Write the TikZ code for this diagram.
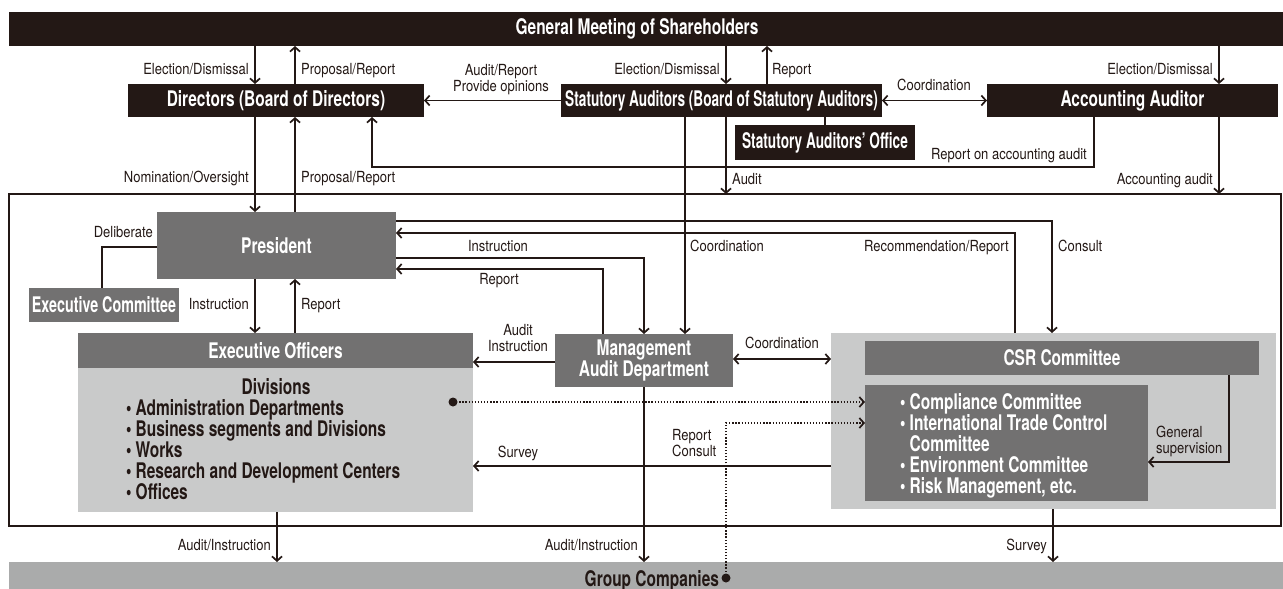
\documentclass[tikz,border=0pt]{standalone}
\usepackage{fontspec}
\usetikzlibrary{arrows.meta}
\newfontfamily\lblfont{TeX Gyre Heros}[FakeStretch=0.85]
\newfontfamily\bxfont{TeX Gyre Heros}[FakeStretch=0.72]
\newfontfamily\bxfontn{TeX Gyre Heros}[FakeStretch=0.635]
\newfontfamily\bxfontm{TeX Gyre Heros}[FakeStretch=0.665]
\definecolor{ink}{RGB}{35,24,21}
\definecolor{dgray}{RGB}{114,113,113}
\definecolor{lgray}{RGB}{201,202,202}
\definecolor{mgray}{RGB}{170,171,171}
\tikzset{
  box/.style={inner sep=0pt, outer sep=0pt, text=white, align=center,
    font=\bxfont\bfseries\fontsize{21.5}{21}\selectfont},
  blk/.style={box, fill=ink},
  dg/.style={box, fill=dgray},
  lg/.style={inner sep=0pt, outer sep=0pt, fill=lgray},
  dtext/.style={box, text=ink},
  narrowbox/.style={font=\bxfontn\bfseries\fontsize{21.5}{21}\selectfont},
  midbox/.style={font=\bxfontm\bfseries\fontsize{21.5}{21}\selectfont},
  lbl/.style={inner sep=0pt, text=ink, font=\lblfont\fontsize{15.3}{16}\selectfont},
  conn/.style={draw=ink, line width=1.3pt},
  arr/.style={conn, ->},
  darr/.style={conn, <->},
  dotarr/.style={conn, dash pattern=on 1.3pt off 1.8pt, ->},
}
\begin{document}
\begin{tikzpicture}[x=1pt, y=-1pt, >={Straight Barb[length=4.5pt,width=10pt,line width=1.7pt]}]
\useasboundingbox (0,0) rectangle (1283,589);

% ---- boxes ----
\node[blk, minimum width=1274pt, minimum height=34pt] (gm) at (646,29) {};
\node[box] (gmt) at (637,29) {General Meeting of Shareholders};
\node[blk, minimum width=296pt, minimum height=33pt] (dir) at (276,100.5) {Directors (Board of Directors)};
\node[blk, narrowbox, minimum width=321pt, minimum height=33pt] (sa) at (721.5,100.5) {Statutory Auditors (Board of Statutory Auditors)};
\node[blk, minimum width=291pt, minimum height=33pt] (aa) at (1132.5,100.5) {Accounting Auditor};
\node[blk, narrowbox, minimum width=180pt, minimum height=35pt] (sao) at (825,142.5) {Statutory Auditors’ Office};

\node[draw=ink, line width=2.2pt, inner sep=0pt, outer sep=0pt, minimum width=1272pt, minimum height=332pt] (outer) at (645,360) {};

\node[dg, minimum width=239pt, minimum height=67pt] (pres) at (276.5,245.5) {President};
\node[dg, midbox, minimum width=150pt, minimum height=34pt] (ec) at (104,305) {Executive Committee};
\node[lg, minimum width=395pt, minimum height=144pt] (div) at (275.5,440) {};
\node[dg, minimum width=395pt, minimum height=35pt] (eo) at (275.5,350.5) {Executive Officers};
\node[dtext] (divt) at (276,387) {Divisions};
\node[dtext, align=left, anchor=west] (divl) at (126,449.5) {• Administration Departments\\• Business segments and Divisions\\• Works\\• Research and Development Centers\\• Offices};
\node[dg, minimum width=178pt, minimum height=53pt] (mad) at (644,360.5) {Management\\Audit Department};
\node[lg, minimum width=445pt, minimum height=176pt] (csro) at (1053.5,421) {};
\node[dg, minimum width=394pt, minimum height=34pt] (csr) at (1062,358) {CSR Committee};
\node[dg, minimum width=283pt, minimum height=116pt] (csri) at (1006.5,443) {};
\node[box, align=left, anchor=west] (csrl) at (900,445.5) {• Compliance Committee\\• International Trade Control\\\hphantom{• }Committee\\• Environment Committee\\• Risk Management, etc.};
\node[inner sep=0pt, outer sep=0pt, fill=mgray, minimum width=1274pt, minimum height=32pt] (gc) at (646,578) {};
\node[dtext, anchor=east] (gct) at (719,581) {Group Companies};

\coordinate (d1) at (453,402);
\coordinate (d2) at (726,578);

% ---- connectors ----
\draw[arr] (gm.south -| 255,0) -- (dir.north -| 255,0);
\draw[arr] (dir.north -| 295,0) -- (gm.south -| 295,0);
\draw[arr] (sa.west) -- (dir.east);
\draw[arr] (gm.south -| 726,0) -- (sa.north -| 726,0);
\draw[arr] (sa.north -| 767,0) -- (gm.south -| 767,0);
\draw[darr] (sa.east) -- (aa.west);
\draw[arr] (gm.south -| 1219,0) -- (aa.north -| 1219,0);
\draw[conn] (sa.south -| sao.north) -- (sao.north);
\draw[arr] (dir.south -| 255,0) -- (pres.north -| 255,0);
\draw[arr] (pres.north -| 295,0) -- (dir.south -| 295,0);
\draw[arr] (aa.south -| 1094,0) -- (1094,167) -- (372,167) -- (dir.south -| 372,0);
\draw[arr] (sa.south -| 726,0) -- (outer.north -| 726,0);
\draw[arr] (aa.south -| 1219,0) -- (outer.north -| 1219,0);
\draw[arr] (sa.south -| 685,0) -- (mad.north -| 685,0);
\draw[arr] (pres.east |- 0,221) -- (1052,221) -- (csro.north -| 1052,0);
\draw[arr] (csro.north -| 1015,0) -- (1015,233) -- (pres.east |- 0,233);
\draw[arr] (pres.east |- 0,258) -- (644,258) -- (mad.north);
\draw[arr] (mad.north -| 603,0) -- (603,269) -- (pres.east |- 0,269);
\draw[conn] (pres.west |- 0,247) -- (102,247) -- (ec.north -| 102,0);
\draw[arr] (pres.south -| 255,0) -- (eo.north -| 255,0);
\draw[arr] (eo.north -| 295,0) -- (pres.south -| 295,0);
\draw[arr] (mad.west |- 0,362) -- (eo.east |- 0,362);
\draw[darr] (mad.east |- 0,359) -- (csro.west |- 0,359);
\draw[arr] (csro.west |- 0,466) -- (div.east |- 0,466);
\draw[arr] (csr.south -| 1229,0) -- (1229,462) -- (csri.east |- 0,462);
\draw[arr] (div.south -| 277,0) -- (gc.north -| 277,0);
\draw[arr] (mad.south) -- (gc.north -| 644,0);
\draw[arr] (csro.south -| 1053,0) -- (gc.north -| 1053,0);
\draw[dotarr] (d1) -- (csri.west |- d1);
\draw[dotarr] (d2) -- (726,423) -- (csri.west |- 0,423);
\fill[ink] (d1) circle (4.5);
\fill[ink] (d2) circle (4.5);

% ---- labels ----
\node[lbl, anchor=mid east] (l1) at (249,72) {Election/Dismissal};
\node[lbl, anchor=mid west] (l2) at (301,72) {Proposal/Report};
\node[lbl, align=center] (l3) at (501,80) {Audit/Report\\Provide opinions};
\node[lbl, anchor=mid east] (l4) at (720,72) {Election/Dismissal};
\node[lbl, anchor=mid west] (l5) at (772,72) {Report};
\node[lbl, anchor=mid] (l6) at (934,88) {Coordination};
\node[lbl, anchor=mid east] (l7) at (1213,72) {Election/Dismissal};
\node[lbl, anchor=mid east] (l8) at (249,180) {Nomination/Oversight};
\node[lbl, anchor=mid west] (l9) at (301,180) {Proposal/Report};
\node[lbl, anchor=mid east] (l10) at (1087,157) {Report on accounting audit};
\node[lbl, anchor=mid west] (l11) at (732,182) {Audit};
\node[lbl, anchor=mid east] (l12) at (1213,182) {Accounting audit};
\node[lbl, anchor=mid west] (l13) at (690,249) {Coordination};
\node[lbl, anchor=mid east] (l14) at (1009,249) {Recommendation/Report};
\node[lbl, anchor=mid west] (l15) at (1058,249) {Consult};
\node[lbl, anchor=mid] (l16) at (498,249) {Instruction};
\node[lbl, anchor=mid] (l17) at (499,282) {Report};
\node[lbl, anchor=mid east] (l18) at (153,235) {Deliberate};
\node[lbl, anchor=mid east] (l19) at (249,307) {Instruction};
\node[lbl, anchor=mid west] (l20) at (301,307) {Report};
\node[lbl, align=center] (l21) at (518,338) {Audit\\Instruction};
\node[lbl, anchor=mid] (l22) at (782,346) {Coordination};
\node[lbl, anchor=mid] (l23) at (518,455) {Survey};
\node[lbl, align=left, anchor=west] (l24) at (672,443) {Report\\Consult};
\node[lbl, align=left, anchor=west] (l25) at (1156,441) {General\\supervision};
\node[lbl, anchor=mid east] (l26) at (271,548) {Audit/Instruction};
\node[lbl, anchor=mid east] (l27) at (638,548) {Audit/Instruction};
\node[lbl, anchor=mid east] (l28) at (1047,548) {Survey};
\end{tikzpicture}
\end{document}
